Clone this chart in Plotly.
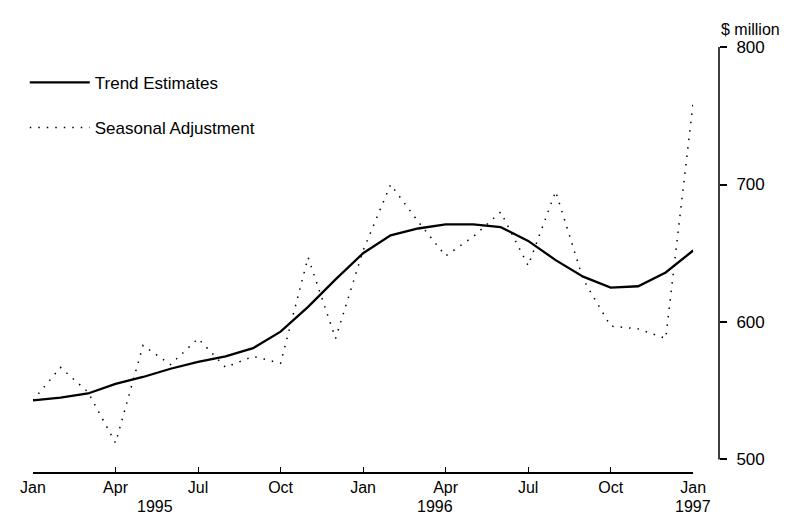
import plotly.graph_objects as go

months = ["1995-01", "1995-02", "1995-03", "1995-04", "1995-05", "1995-06",
          "1995-07", "1995-08", "1995-09", "1995-10", "1995-11", "1995-12",
          "1996-01", "1996-02", "1996-03", "1996-04", "1996-05", "1996-06",
          "1996-07", "1996-08", "1996-09", "1996-10", "1996-11", "1996-12",
          "1997-01"]
trend = [543, 545, 548, 555, 560, 566, 571, 575, 581, 593, 611, 631,
         650, 663, 668, 671, 671, 669, 659, 645, 633, 625, 626, 636, 652]
seasonal = [543, 567, 549, 512, 583, 569, 588, 567, 575, 570, 647, 588,
            652, 700, 673, 648, 662, 680, 641, 695, 631, 597, 595, 588, 760]

tick_months = ["1995-01", "1995-04", "1995-07", "1995-10", "1996-01",
               "1996-04", "1996-07", "1996-10", "1997-01"]
tick_text = ["Jan", "Apr", "Jul", "Oct", "Jan", "Apr", "Jul", "Oct", "Jan"]
y_ticks = [500, 600, 700, 800]
year_labels = ["1995", "1996", "1997"]
year_pos = [4.43, 14.6, 24]

idx = list(range(len(months)))
tick_idx = [months.index(m) for m in tick_months]

FONT = "Liberation Sans, Arial, sans-serif"

fig = go.Figure()
fig.add_trace(go.Scatter(x=idx, y=trend, mode="lines", name="Trend Estimates",
                         legendgroup="a",
                         line=dict(color="black", width=2.3)))
fig.add_trace(go.Scatter(x=idx, y=seasonal, mode="lines", name="Seasonal Adjustment",
                         legendgroup="b",
                         line=dict(color="black", width=1.5, dash="1.5px,7px")))

fig.update_layout(
    width=794, height=525,
    margin=dict(l=19, r=83, t=39, b=61),
    paper_bgcolor="white", plot_bgcolor="white",
    font=dict(family=FONT, size=16, color="black"),
    showlegend=True,
    legend=dict(x=-0.012, y=0.958, xanchor="left", yanchor="top",
                bgcolor="rgba(0,0,0,0)", font=dict(size=17),
                tracegroupgap=20, itemwidth=60),
    xaxis=dict(domain=[0, 0.9624], range=[0, 24], tickvals=tick_idx,
               ticktext=tick_text, ticks="inside", ticklen=5, tickwidth=1.2,
               tickcolor="black", showline=True, linecolor="black", linewidth=1.5,
               showgrid=False, zeroline=False, fixedrange=True,
               tickfont=dict(size=16)),
    yaxis=dict(side="right", anchor="free", position=1, range=[490.9, 800],
               tickvals=y_ticks, ticks="outside", ticklen=7, tickwidth=1.5,
               tickcolor="black", showline=False, showgrid=False,
               zeroline=False, ticklabelstandoff=6, tickfont=dict(size=17)),
)

fig.add_shape(type="line", xref="paper", yref="y", x0=1, x1=1, y0=500, y1=800,
              line=dict(color="black", width=1.5))

for lab, xp in zip(year_labels, year_pos):
    fig.add_annotation(x=xp, y=-0.082, xref="x", yref="paper", text=lab,
                       showarrow=False, font=dict(size=16), yanchor="middle")

fig.add_annotation(x=1.0, y=1.04, xref="paper", yref="paper", text="$ million",
                   showarrow=False, xanchor="left", yanchor="middle",
                   font=dict(size=16))

fig.write_html("out.html")
